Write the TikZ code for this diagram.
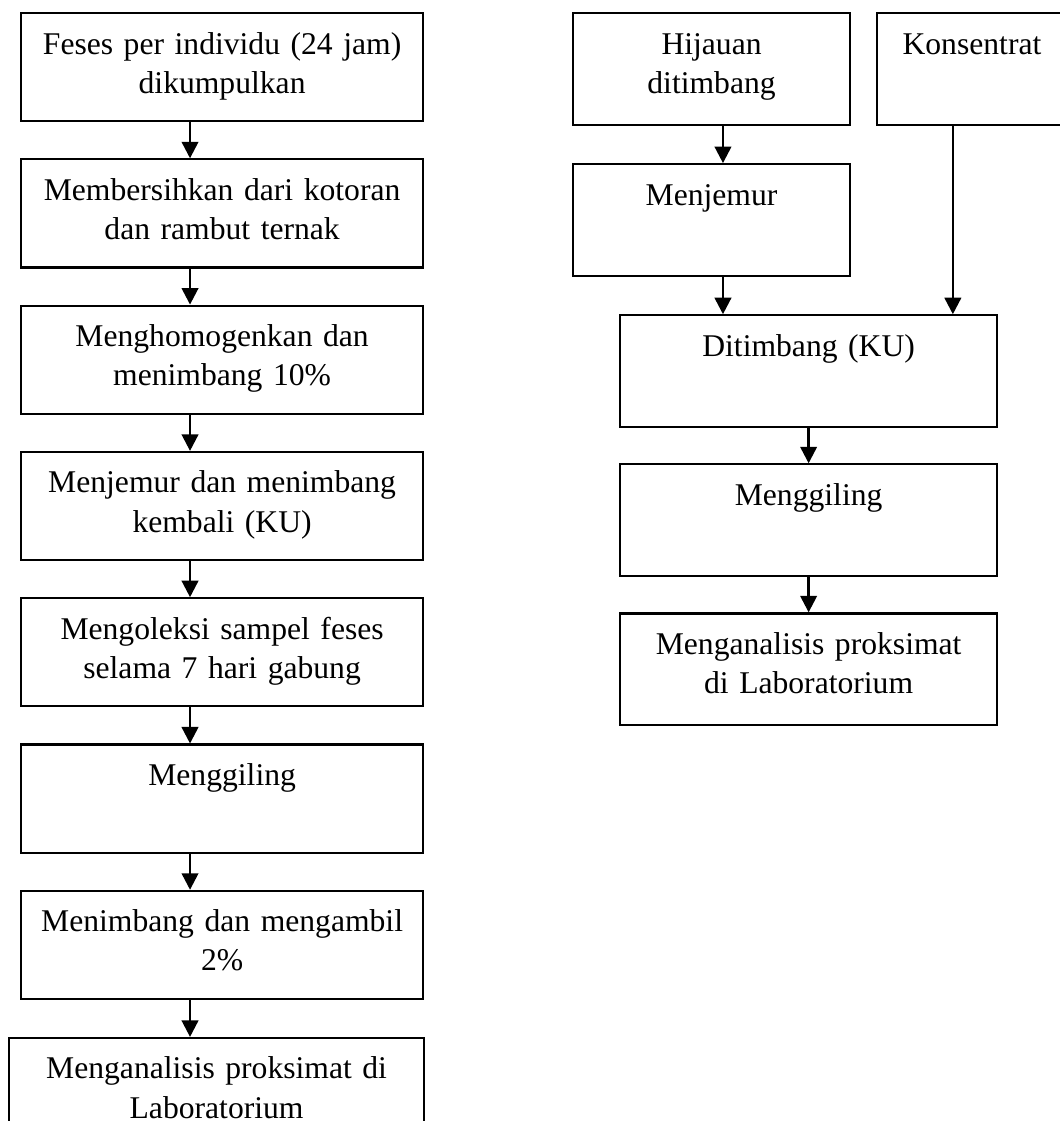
\documentclass[tikz,border=0pt]{standalone}
\usepackage{fontspec}
\setmainfont{Liberation Serif}
\usepackage{tikz}
\usetikzlibrary{positioning,arrows.meta}

\begin{document}
\begin{tikzpicture}[
    x=1pt, y=1pt,
    node distance=13.1pt,
    every node/.style={font=\fontsize{11.5}{14.2}\selectfont},
    stepbox/.style={draw, line width=0.8pt, inner xsep=0pt, inner ysep=0pt, align=center, text height=14.9pt},
    leftbox/.style={stepbox, text width=146.2pt, text depth=24.4pt},
    rightbox/.style={stepbox, text width=#1, text depth=25.8pt},
    flow/.style={draw, line width=0.9pt, -{Triangle[width=6pt,length=6pt]}}
]
\clip (0,0) rectangle (385.45,-407.64);

\node[leftbox, anchor=north west] (feses) at (7.27,-4.36) {Feses per individu (24 jam)\\dikumpulkan};
\node[leftbox, below=of feses] (bersih) {Membersihkan dari kotoran\\dan rambut ternak};
\node[leftbox, below=of bersih] (homogen) {Menghomogenkan dan\\menimbang 10\%};
\node[leftbox, below=of homogen] (jemur) {Menjemur dan menimbang\\kembali (KU)};
\node[leftbox, below=of jemur] (koleksi) {Mengoleksi sampel feses\\selama 7 hari gabung};
\node[leftbox, below=of koleksi] (giling) {Menggiling};
\node[leftbox, below=of giling] (ambil) {Menimbang dan mengambil\\2\%};
\node[leftbox, text width=150.9pt, below=13.4pt of ambil, xshift=-2pt] (analisis) {Menganalisis proksimat di\\Laboratorium};

\node[rightbox=100.7pt, anchor=north west] (hijauan) at (208.0,-4.36) {Hijauan\\ditimbang};
\node[rightbox=69.1pt, anchor=north west] (konsentrat) at (318.5,-4.36) {Konsentrat};
\node[rightbox=100.7pt, below=13.45pt of hijauan] (jemurh) {Menjemur};
\node[rightbox=137.1pt, below=13.45pt of jemurh, xshift=35.3pt] (timbang) {Ditimbang (KU)};
\node[rightbox=137.1pt, below=12.7pt of timbang] (gilingh) {Menggiling};
\node[rightbox=137.1pt, below=12.7pt of gilingh] (analisish) {Menganalisis proksimat\\di Laboratorium};

\coordinate (lx) at (69.1,0);
\coordinate (hx) at (262.9,0);
\coordinate (kx) at (346.5,0);

\foreach \a/\b in {feses/bersih, bersih/homogen, homogen/jemur, jemur/koleksi,
                   koleksi/giling, giling/ambil, ambil/analisis}
  \draw[flow] (\a.south -| lx) -- (\b.north -| lx);

\draw[flow] (hijauan.south -| hx) -- (jemurh.north -| hx);
\draw[flow] (jemurh.south -| hx) -- (timbang.north -| hx);
\draw[flow] (konsentrat.south -| kx) -- (timbang.north -| kx);
\draw[flow] (timbang) -- (gilingh);
\draw[flow] (gilingh) -- (analisish);
\end{tikzpicture}
\end{document}
